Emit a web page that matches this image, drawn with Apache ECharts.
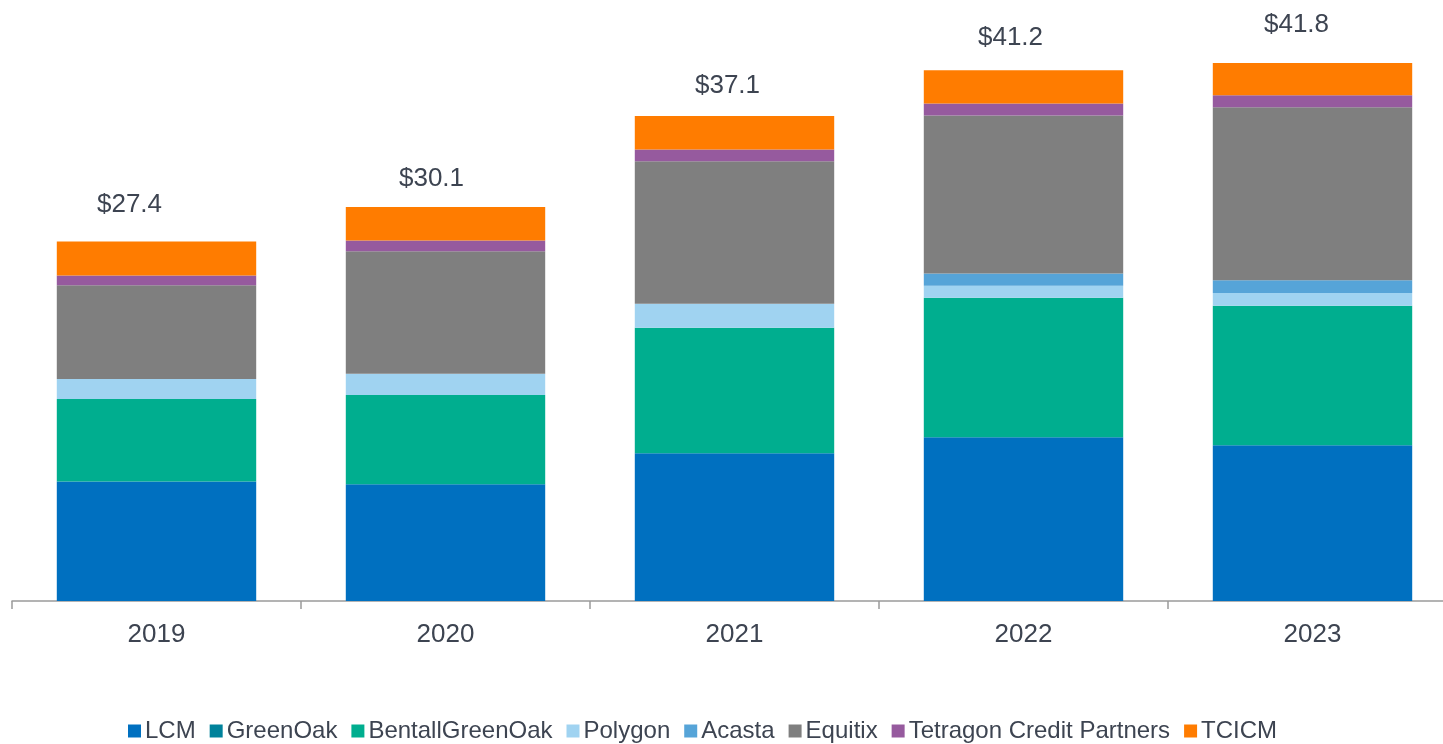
<!DOCTYPE html>
<html>
<head>
<meta charset="utf-8">
<script src="https://cdn.jsdelivr.net/npm/echarts@6/dist/echarts.min.js"></script>
<style>
  html, body { margin: 0; padding: 0; background: #fff; }
  #main { width: 1443px; height: 744px; }
</style>
</head>
<body>
<div id="main"></div>
<script>
// categories and values ($bn)
var years = ['2019', '2020', '2021', '2022', '2023'];
var totals = ['$27.4', '$30.1', '$37.1', '$41.2', '$41.8'];

var lcm       = [9.19, 8.98, 11.36, 12.59, 11.98];
var greenOak  = [0, 0, 0, 0, 0];
var bentallGO = [6.35, 6.87, 9.66, 10.74, 10.74];
var polygon   = [1.54, 1.64, 1.85, 0.92, 0.98];
var acasta    = [0, 0, 0, 0.95, 0.98];
var equitix   = [7.21, 9.42, 10.95, 12.15, 13.31];
var tetragon  = [0.74, 0.82, 0.92, 0.92, 0.92];
var tcicm     = [2.62, 2.57, 2.56, 2.56, 2.48];

// total labels were hand placed in the original, nudge them the same way
var labelNudge = [[-27, -24], [-14, -15], [-7, -17], [-13, -19], [-16, -25]];

var textColor = '#3d4451';
var font = '"Liberation Sans", Arial, sans-serif';

var myChart = echarts.init(document.getElementById('main'));

function bar(name, data, color) {
    return {
        name: name,
        type: 'bar',
        stack: 'total',
        barWidth: '69%',
        data: data,
        itemStyle: { color: color },
        emphasis: { disabled: true }
    };
}

var series = [
    bar('LCM', lcm, '#0070c0'),
    bar('GreenOak', greenOak, '#00829b'),
    bar('BentallGreenOak', bentallGO, '#00ae8f'),
    bar('Polygon', polygon, '#a0d3f1'),
    bar('Acasta', acasta, '#56a4d8'),
    bar('Equitix', equitix, '#7f7f7f'),
    bar('Tetragon Credit Partners', tetragon, '#965a9e'),
    bar('TCICM', tcicm.map(function (v, i) {
        return {
            value: v,
            label: { offset: labelNudge[i] }
        };
    }), '#ff7c00')
];
series[7].label = {
    show: true,
    position: 'top',
    distance: 0,
    fontSize: 26,
    fontFamily: font,
    color: textColor,
    formatter: function (p) { return totals[p.dataIndex]; }
};

var option = {
    animation: false,
    textStyle: { fontFamily: font },
    // plot runs a little past the right edge, as in the original
    grid: {
        left: 12,
        right: -14,
        top: 16,
        bottom: 143,
        containLabel: false,
        outerBoundsMode: 'none'
    },
    legend: {
        left: 128,
        top: 719,
        padding: 0,
        itemWidth: 13,
        itemHeight: 13,
        itemGap: 14,
        icon: 'rect',
        textStyle: { fontSize: 24, color: textColor, fontFamily: font, padding: [0, 0, 0, -1] },
        data: ['LCM', 'GreenOak', 'BentallGreenOak', 'Polygon', 'Acasta', 'Equitix', 'Tetragon Credit Partners', 'TCICM']
    },
    xAxis: {
        type: 'category',
        data: years,
        axisLine: { lineStyle: { color: '#9b9b9b', width: 1.5 } },
        axisTick: { show: true, length: 8, lineStyle: { color: '#9b9b9b', width: 1.5 } },
        axisLabel: { fontSize: 26, color: textColor, margin: 21, fontFamily: font }
    },
    yAxis: {
        type: 'value',
        min: 0,
        max: 45,
        show: false,
        splitLine: { show: false }
    },
    series: series
};

myChart.setOption(option);
</script>
</body>
</html>
